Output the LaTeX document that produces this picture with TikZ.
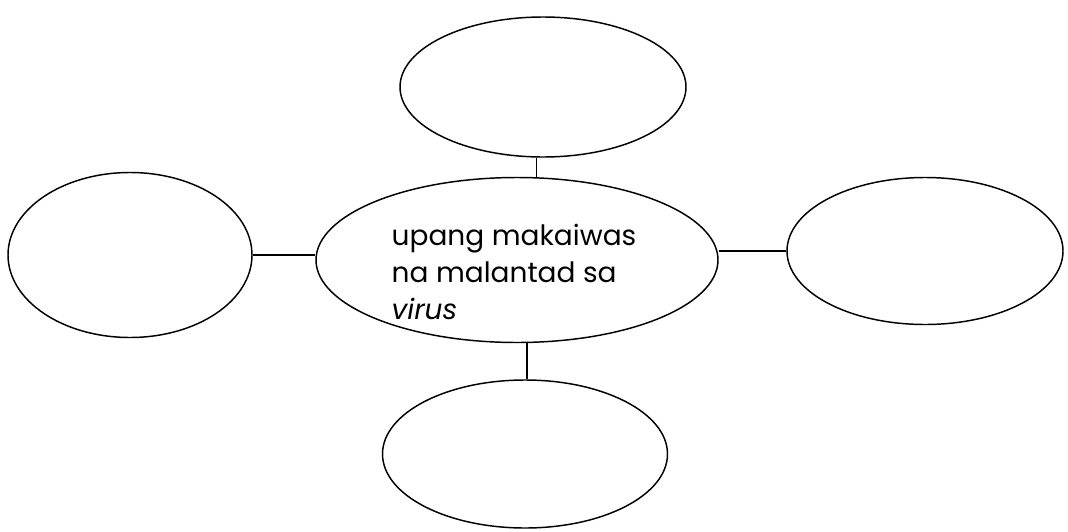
\documentclass[tikz,border=0pt]{standalone}
\usepackage{fontspec}
\setmainfont{Poppins}
\usetikzlibrary{shapes.geometric}

\begin{document}
\begin{tikzpicture}[x=0.75pt,y=-0.75pt,
    bubble/.style={draw,ellipse,line width=1.1pt,inner sep=0pt},
    link/.style={line width=1.2pt}]
  \useasboundingbox (0,0) rectangle (1068,532);

  \node[bubble,minimum width=214.5pt,minimum height=105pt] (top) at (543,87) {};
  \node[bubble,minimum width=183pt,minimum height=123.75pt] (left) at (130,255) {};
  \node[bubble,minimum width=301.5pt,minimum height=123.75pt] (mid) at (517,260) {};
  \node[bubble,minimum width=207pt,minimum height=110.25pt] (right) at (925,251) {};
  \node[bubble,minimum width=213.75pt,minimum height=111pt] (bot) at (525,454) {};

  \node[align=left,font=\fontsize{21}{27.4}\selectfont,inner sep=0pt] (txt) at (514,272)
    {upang makaiwas\\na malantad sa\\\textit{virus}};

  \draw[link] ([xshift=-5pt]top.south) -- ([xshift=-5pt]top.south |- mid.north);
  \draw[link] (left.east) -- (left.east -| mid.west);
  \draw[link] (right.west -| mid.east) -- (right.west);
  \draw[link] ([xshift=1.5pt]bot.north |- mid.south) -- ([xshift=1.5pt]bot.north);
\end{tikzpicture}
\end{document}
